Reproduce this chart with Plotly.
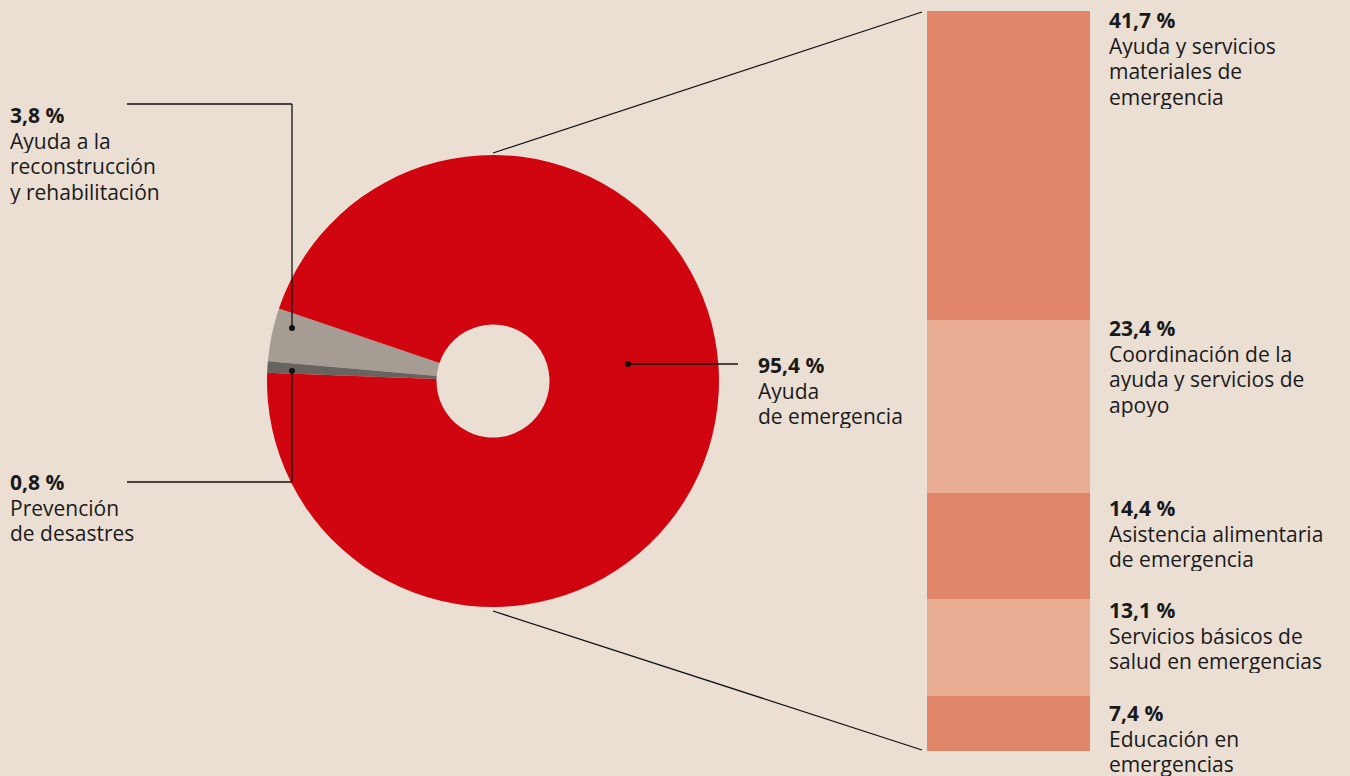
import plotly.graph_objects as go

W, H = 1350, 776

# ---- data ----
pie_labels = ["Ayuda a la reconstrucción y rehabilitación", "Prevención de desastres", "Ayuda de emergencia"]
pie_values = [3.8, 0.8, 95.4]
pie_colors = ["#A59D93", "#67635E", "#D1050F"]
pie_text = [["Ayuda a la", "reconstrucción", "y rehabilitación"],
            ["Prevención", "de desastres"],
            ["Ayuda", "de emergencia"]]

bar_labels = [["Ayuda y servicios", "materiales de", "emergencia"],
              ["Coordinación de la", "ayuda y servicios de", "apoyo"],
              ["Asistencia alimentaria", "de emergencia"],
              ["Servicios básicos de", "salud en emergencias"],
              ["Educación en", "emergencias"]]
bar_values = [41.7, 23.4, 14.4, 13.1, 7.4]
bar_colors = ["#E08567", "#E8AC93", "#E08567", "#E8AC93", "#E08567"]

def fmt(v):
    return f"{v:.1f}".replace(".", ",") + " %"

BG = "#EBDFD4"
FONT = "Open Sans"
FS = 21
LH = 25.7
TXT = "#1a1a1a"

def px(x):
    return x / W

def py(y):
    return 1 - y / H

fig = go.Figure()

# pie (donut)
cx, cy, r = 493, 381, 226
fig.add_trace(go.Pie(
    labels=pie_labels, values=pie_values, hole=0.25, sort=False,
    direction="counterclockwise", rotation=-85,
    marker=dict(colors=pie_colors, line=dict(width=0)),
    textinfo="none", hoverinfo="label+percent", showlegend=False,
    domain=dict(x=[px(cx - r), px(cx + r)], y=[py(cy + r), py(cy - r)]),
))

# stacked bar
for lab, val, col in zip(bar_labels, bar_values, bar_colors):
    fig.add_trace(go.Bar(
        x=[0], y=[val], marker=dict(color=col, line=dict(width=0)),
        width=1, showlegend=False, hoverinfo="y", name=" ".join(lab),
    ))

fig.update_layout(
    width=W, height=H, paper_bgcolor=BG, plot_bgcolor="rgba(0,0,0,0)",
    margin=dict(l=0, r=0, t=0, b=0), barmode="stack", bargap=0,
    xaxis=dict(domain=[px(927), px(1090)], range=[-0.5, 0.5], visible=False, fixedrange=True),
    yaxis=dict(domain=[py(751), py(11)], range=[100, 0], visible=False, fixedrange=True),
    font=dict(family=FONT, size=FS, color=TXT),
)

def block(x, y, value, lines):
    items = [f"<b>{fmt(value)}</b>"] + list(lines)
    for i, t in enumerate(items):
        fig.add_annotation(
            x=px(x), y=py(y + i * LH), xref="paper", yref="paper", xanchor="left", yanchor="middle",
            text=t, showarrow=False, align="left", valign="middle", height=24, borderpad=0,
            font=dict(family=FONT, size=FS, color=TXT),
        )

# bar labels (first-line centres, px)
bar_text_y = [20, 328, 508, 610, 713]
for y, val, lab in zip(bar_text_y, bar_values, bar_labels):
    block(1108, y, val, lab)

# pie labels
pie_text_pos = [(9, 115), (9, 482), (757, 365)]
for (x, y), v, t in zip(pie_text_pos, pie_values, pie_text):
    block(x, y, v, t)

def line(x0, y0, x1, y1, w=1.3):
    fig.add_shape(type="line", xref="paper", yref="paper",
                  x0=px(x0), y0=py(y0), x1=px(x1), y1=py(y1),
                  line=dict(color="#111111", width=w))

def dot(x, y, rr=3):
    fig.add_shape(type="circle", xref="paper", yref="paper",
                  x0=px(x - rr), x1=px(x + rr), y0=py(y - rr), y1=py(y + rr),
                  fillcolor="#111111", line=dict(width=0))

# callouts
line(127, 104, 292, 104); line(292, 104, 292, 328); dot(292, 328)
line(127, 482, 292, 482); line(292, 482, 292, 371); dot(292, 371)
line(628, 364, 738, 364); dot(628, 364)

# connectors
line(493, 153, 922, 12)
line(493, 611, 922, 750)

fig.write_html("out.html", config={"displayModeBar": False},
               post_script="document.body.style.margin='0';document.body.style.overflow='hidden';document.body.style.background='" + BG + "';")
